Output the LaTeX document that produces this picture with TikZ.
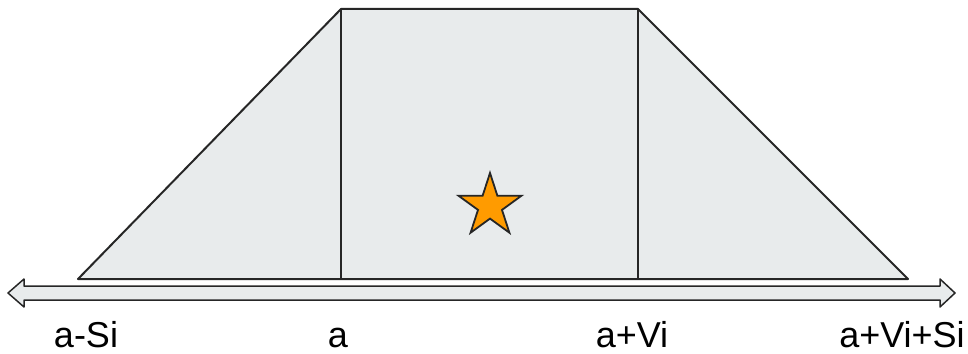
\documentclass[tikz,border=0pt]{standalone}
\usepackage{fontspec}
\setmainfont{Liberation Sans}
\usetikzlibrary{shapes.geometric}
\definecolor{areagray}{HTML}{E8EBEC}
\definecolor{staror}{HTML}{FF9B00}
\tikzset{edge/.style={draw=black!85, line width=1pt, line join=round},
         lbl/.style={anchor=base, font=\fontsize{18}{21}\selectfont}}

\begin{document}
\begin{tikzpicture}[x=0.5pt, y=-0.5pt]
        \useasboundingbox (0,0) rectangle (968,353);
        % region under the curve
        \filldraw[edge, fill=areagray] (78,279) -- (341,9) -- (638,9) -- (908,279) -- cycle;
        \draw[edge] (341,9) -- (341,279);
        \draw[edge] (638,9) -- (638,279);
        % axis
        \filldraw[edge, line width=0.75pt, fill=areagray] (8,293) -- (24,279) -- (24,286) -- (940,286) -- (940,279)
            -- (955,293) -- (940,307) -- (940,300) -- (24,300) -- (24,307) -- cycle;
        \node[star, star points=5, star point ratio=2.618, minimum size=33pt, inner sep=0pt,
              draw=black!85, line width=0.9pt, fill=staror] (pt) at (490,206) {};
        \node[lbl] (lo) at (86,347) {a-Si};
        \node[lbl] (a) at (338,347) {a};
        \node[lbl] (av) at (632,347) {a+Vi};
        \node[lbl] (hi) at (902,347) {a+Vi+Si};
    \end{tikzpicture}
\end{document}
